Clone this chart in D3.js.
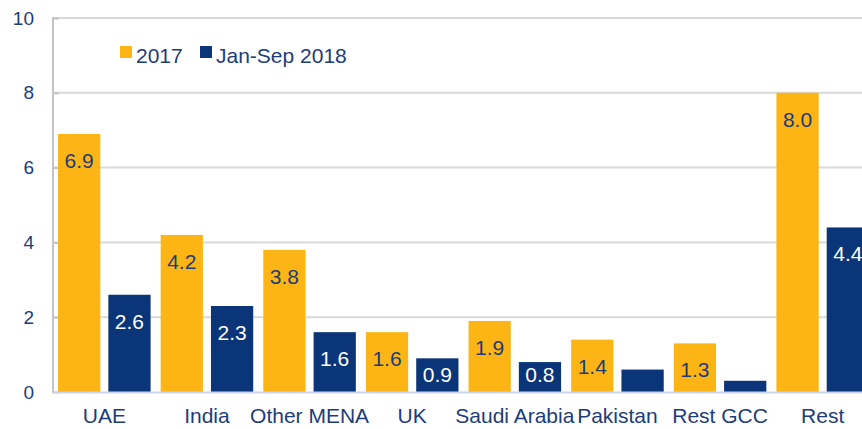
<!DOCTYPE html>
<html lang="en">
<head>
    <meta charset="UTF-8">
    <title>Grouped Bar Chart</title>
    <style>
        body { margin: 0; background: #fff; }
        svg { display: block; font-family: "Liberation Sans", Arial, sans-serif; }
        .axis .domain { display: none; }
    </style>
</head>
<body>
    <svg width="862" height="429"></svg>
    <script src="https://d3js.org/d3.v7.min.js"></script>
    <script>
        var categories = ["UAE", "India", "Other MENA", "UK", "Saudi Arabia", "Pakistan", "Rest GCC", "Rest"];
        var seriesNames = ["2017", "Jan-Sep 2018"];
        var values2017 = [6.9, 4.2, 3.8, 1.6, 1.9, 1.4, 1.3, 8.0];
        var values2018 = [2.6, 2.3, 1.6, 0.9, 0.8, 0.6, 0.3, 4.4];
        // which bars carry a value label
        var labels2017 = [true, true, true, true, true, true, true, true];
        var labels2018 = [true, true, true, true, true, false, false, true];
        var yTicks = [0, 2, 4, 6, 8, 10];

        var svg = d3.select("svg"),
            margin = {top: 18, left: 53},
            height = 392 - margin.top,
            g = svg.append("g").attr("transform", "translate(" + margin.left + "," + margin.top + ")");

        var colors = {"2017": "#fdb515", "Jan-Sep 2018": "#0a3578"};
        var textBlue = "#1d3c78";

        var data = categories.map(function(c, i) {
            return {cat: c, "2017": values2017[i], "Jan-Sep 2018": values2018[i],
                    lab: {"2017": labels2017[i], "Jan-Sep 2018": labels2018[i]}};
        });

        var x0 = d3.scaleBand()
            .domain(categories)
            .range([0, 821])
            .padding(0);

        var x1 = d3.scaleBand()
            .domain(seriesNames)
            .range([0, x0.bandwidth()])
            .paddingInner(0.16)
            .paddingOuter(0.1);

        var y = d3.scaleLinear()
            .domain([0, 10])
            .range([height, 0]);

        // gridlines
        g.append("g")
            .selectAll("line")
            .data(yTicks.filter(function(t) { return t > 0; }))
            .enter().append("line")
            .attr("x1", 0)
            .attr("x2", 830)
            .attr("y1", function(d) { return y(d); })
            .attr("y2", function(d) { return y(d); })
            .attr("stroke", "#d9d9d9")
            .attr("stroke-width", 2);

        // y axis
        var yAxis = g.append("g")
            .attr("class", "axis")
            .call(d3.axisRight(y).tickValues(yTicks).tickSize(6).tickFormat(function(d) { return ""; }));
        yAxis.selectAll(".tick line").attr("stroke", "#c4c4c4").attr("stroke-width", 2);

        g.append("line")
            .attr("x1", 0).attr("x2", 0)
            .attr("y1", y(10) - 1).attr("y2", y(0) + 1)
            .attr("stroke", "#c4c4c4")
            .attr("stroke-width", 2);

        g.append("g")
            .selectAll("text")
            .data(yTicks)
            .enter().append("text")
            .attr("x", -19)
            .attr("y", function(d) { return y(d); })
            .attr("dy", "0.35em")
            .attr("text-anchor", "end")
            .attr("fill", textBlue)
            .attr("font-size", 19)
            .text(function(d) { return d; });

        // bars
        var groups = g.append("g")
            .selectAll("g")
            .data(data)
            .enter().append("g")
            .attr("transform", function(d) { return "translate(" + x0(d.cat) + ",0)"; });

        var cells = groups.selectAll("g")
            .data(function(d) { return seriesNames.map(function(k) { return {key: k, value: d[k], show: d.lab[k]}; }); })
            .enter().append("g");

        cells.append("rect")
            .attr("x", function(d) { return x1(d.key); })
            .attr("y", function(d) { return y(d.value); })
            .attr("width", x1.bandwidth())
            .attr("height", function(d) { return height - y(d.value); })
            .attr("fill", function(d) { return colors[d.key]; });

        // labels sit inside the top of the bar, but never lower than just above the baseline
        cells.filter(function(d) { return d.show; })
            .append("text")
            .attr("x", function(d) { return x1(d.key) + x1.bandwidth() / 2; })
            .attr("y", function(d) { return Math.min(y(d.value) + 34, height - 10); })
            .attr("text-anchor", "middle")
            .attr("font-size", 21)
            .attr("fill", function(d) { return d.key === "2017" ? textBlue : "#ffffff"; })
            .text(function(d) { return d.value.toFixed(1); });

        // x axis baseline
        g.append("line")
            .attr("x1", 0).attr("x2", 830)
            .attr("y1", height + 0.5).attr("y2", height + 0.5)
            .attr("stroke", "#cbd4ec")
            .attr("stroke-width", 2);

        g.append("g")
            .selectAll("text")
            .data(categories)
            .enter().append("text")
            .attr("x", function(d) { return x0(d) + x0.bandwidth() / 2; })
            .attr("y", height + 31)
            .attr("text-anchor", "middle")
            .attr("fill", textBlue)
            .attr("font-size", 21)
            .text(function(d) { return d; });

        // legend
        var legend = svg.append("g")
            .attr("font-size", 21)
            .selectAll("g")
            .data(seriesNames)
            .enter().append("g")
            .attr("transform", function(d, i) { return "translate(" + (120 + i * 80) + ",46)"; });

        legend.append("rect")
            .attr("width", 12)
            .attr("height", 12)
            .attr("fill", function(d) { return colors[d]; });

        legend.append("text")
            .attr("x", 16)
            .attr("y", 17)
            .attr("fill", textBlue)
            .text(function(d) { return d; });
    </script>
</body>
</html>
